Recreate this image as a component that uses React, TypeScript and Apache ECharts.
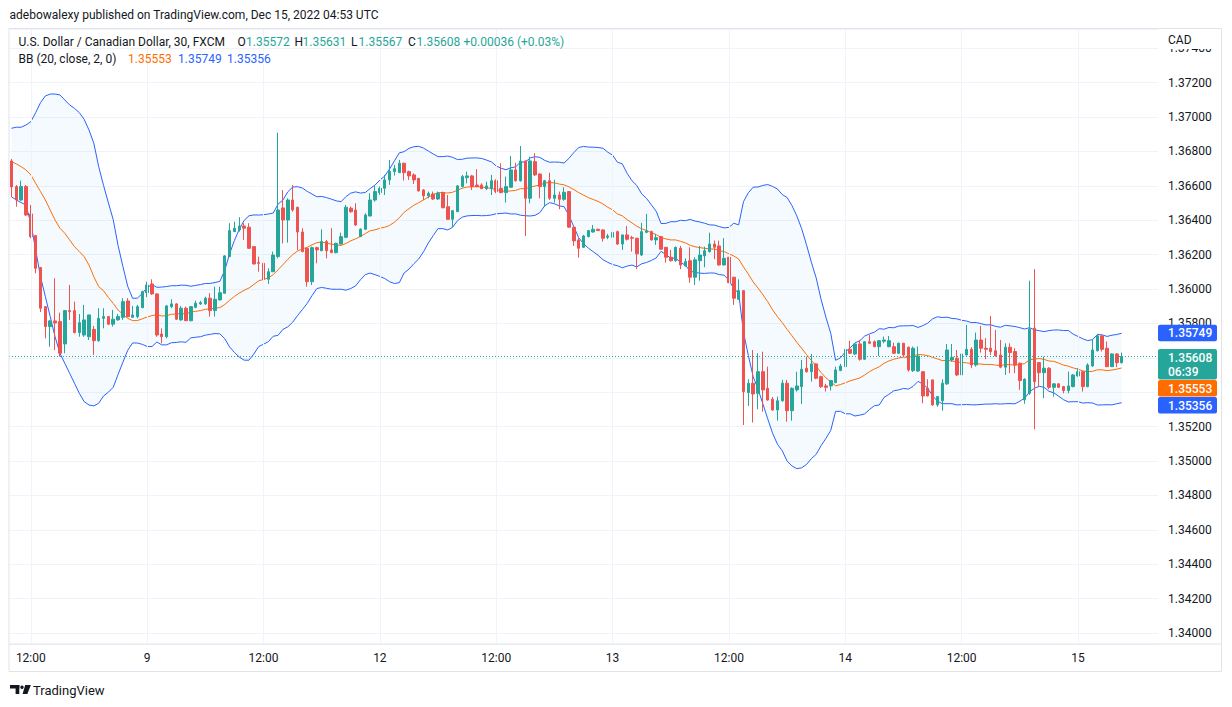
import React, { useEffect, useRef } from "react";
import * as echarts from "echarts";

// USD/CAD 30-minute candles, FXCM — rows are [open, high, low, close]
const candles: number[][] = [
  [1.36745, 1.36757, 1.36536, 1.36594],
  [1.36596, 1.36605, 1.36479, 1.36518],
  [1.36518, 1.3663, 1.36514, 1.36596],
  [1.36596, 1.36605, 1.36425, 1.36431],
  [1.36437, 1.36489, 1.36296, 1.36305],
  [1.36311, 1.36315, 1.36092, 1.36121],
  [1.36125, 1.36129, 1.35867, 1.35889],
  [1.35898, 1.359, 1.35714, 1.35782],
  [1.35782, 1.35821, 1.35665, 1.35815],
  [1.35815, 1.36063, 1.35646, 1.35803],
  [1.35811, 1.35863, 1.35607, 1.35627],
  [1.35681, 1.35879, 1.35627, 1.35875],
  [1.35875, 1.36024, 1.35821, 1.35869],
  [1.35875, 1.35927, 1.35743, 1.35747],
  [1.35747, 1.35855, 1.35723, 1.35805],
  [1.35733, 1.35908, 1.35722, 1.35821],
  [1.35723, 1.3585, 1.35704, 1.3585],
  [1.35766, 1.35786, 1.35617, 1.357],
  [1.357, 1.35889, 1.35694, 1.3583],
  [1.3583, 1.35889, 1.35772, 1.3584],
  [1.3584, 1.35842, 1.35791, 1.35796],
  [1.35796, 1.35879, 1.35782, 1.35825],
  [1.35821, 1.35855, 1.35816, 1.3584],
  [1.35836, 1.35947, 1.35821, 1.35927],
  [1.35931, 1.35947, 1.35836, 1.3584],
  [1.35836, 1.35902, 1.35834, 1.3585],
  [1.3584, 1.35908, 1.3583, 1.35898],
  [1.35892, 1.35991, 1.35889, 1.35985],
  [1.35979, 1.36043, 1.35953, 1.36024],
  [1.3603, 1.36057, 1.35966, 1.35972],
  [1.35972, 1.35975, 1.35723, 1.35733],
  [1.35739, 1.35772, 1.35685, 1.35723],
  [1.35723, 1.35908, 1.35714, 1.35902],
  [1.35898, 1.35941, 1.35889, 1.35914],
  [1.35914, 1.35918, 1.35821, 1.35825],
  [1.35821, 1.35902, 1.35816, 1.35889],
  [1.35889, 1.35898, 1.35815, 1.35816],
  [1.35816, 1.35902, 1.35813, 1.35898],
  [1.35894, 1.35933, 1.35889, 1.35918],
  [1.35914, 1.35931, 1.35908, 1.35921],
  [1.35914, 1.35956, 1.35908, 1.35947],
  [1.35947, 1.35976, 1.3584, 1.35875],
  [1.35875, 1.36014, 1.3584, 1.35941],
  [1.35937, 1.36014, 1.35935, 1.35979],
  [1.35976, 1.36198, 1.35974, 1.36193],
  [1.36189, 1.36383, 1.36187, 1.3634],
  [1.36334, 1.36392, 1.36332, 1.36354],
  [1.36344, 1.36418, 1.36334, 1.36367],
  [1.36367, 1.36383, 1.36286, 1.36354],
  [1.3636, 1.36383, 1.36235, 1.36237],
  [1.36247, 1.36249, 1.36144, 1.36146],
  [1.36154, 1.36189, 1.36101, 1.3615],
  [1.3615, 1.36189, 1.36053, 1.36057],
  [1.36057, 1.36121, 1.3603, 1.36101],
  [1.36101, 1.36218, 1.36099, 1.36198],
  [1.36189, 1.3691, 1.36179, 1.3646],
  [1.36472, 1.36576, 1.36266, 1.36402],
  [1.36402, 1.36528, 1.3627, 1.36518],
  [1.36518, 1.36605, 1.3645, 1.3646],
  [1.36476, 1.36478, 1.36226, 1.36332],
  [1.36332, 1.36354, 1.36214, 1.36218],
  [1.36237, 1.36239, 1.36014, 1.36043],
  [1.36043, 1.36247, 1.36024, 1.36241],
  [1.36241, 1.36247, 1.3615, 1.36228],
  [1.36223, 1.36348, 1.36221, 1.36276],
  [1.36276, 1.36286, 1.36179, 1.36223],
  [1.36228, 1.36354, 1.3621, 1.36212],
  [1.36212, 1.3627, 1.36208, 1.36266],
  [1.36262, 1.36328, 1.3626, 1.36305],
  [1.36301, 1.36489, 1.36296, 1.36476],
  [1.3647, 1.3648, 1.36444, 1.3645],
  [1.3646, 1.36499, 1.36367, 1.36373],
  [1.36305, 1.36354, 1.36303, 1.36348],
  [1.36348, 1.36441, 1.36344, 1.36431],
  [1.36425, 1.36557, 1.36423, 1.36518],
  [1.36518, 1.36605, 1.36508, 1.36567],
  [1.36561, 1.36596, 1.36547, 1.36586],
  [1.36586, 1.36664, 1.36547, 1.36635],
  [1.36635, 1.36751, 1.36606, 1.36683],
  [1.36683, 1.36722, 1.3666, 1.367],
  [1.36677, 1.36751, 1.36675, 1.36732],
  [1.36732, 1.36734, 1.36631, 1.36677],
  [1.36683, 1.36689, 1.36635, 1.36658],
  [1.36664, 1.36673, 1.36611, 1.36635],
  [1.36644, 1.36646, 1.36567, 1.36571],
  [1.36576, 1.36581, 1.36518, 1.36542],
  [1.36542, 1.36567, 1.36528, 1.36557],
  [1.36553, 1.36567, 1.36518, 1.36524],
  [1.36524, 1.36567, 1.36518, 1.36557],
  [1.36561, 1.36567, 1.3647, 1.36473],
  [1.36479, 1.36547, 1.36402, 1.36406],
  [1.36406, 1.3646, 1.3636, 1.36456],
  [1.3645, 1.36605, 1.36448, 1.366],
  [1.36596, 1.36664, 1.36592, 1.36654],
  [1.36648, 1.36683, 1.36615, 1.36658],
  [1.36658, 1.36664, 1.36576, 1.36596],
  [1.36605, 1.36697, 1.36592, 1.36596],
  [1.36605, 1.36615, 1.36581, 1.36584],
  [1.36584, 1.36625, 1.36576, 1.366],
  [1.36584, 1.36664, 1.36547, 1.3663],
  [1.3663, 1.36639, 1.36557, 1.36567],
  [1.36586, 1.36732, 1.36557, 1.36561],
  [1.36561, 1.36654, 1.36503, 1.36596],
  [1.36592, 1.36774, 1.3659, 1.36693],
  [1.36693, 1.36735, 1.36625, 1.3663],
  [1.3663, 1.36832, 1.36625, 1.36745],
  [1.36745, 1.36747, 1.36309, 1.36528],
  [1.36528, 1.3677, 1.36499, 1.36745],
  [1.36741, 1.3679, 1.36658, 1.36664],
  [1.36669, 1.36673, 1.36528, 1.36596],
  [1.36596, 1.36635, 1.36479, 1.3663],
  [1.3663, 1.36677, 1.36518, 1.36528],
  [1.36528, 1.36635, 1.36503, 1.36547],
  [1.36547, 1.36567, 1.36464, 1.36522],
  [1.36522, 1.36592, 1.36514, 1.36563],
  [1.36567, 1.36569, 1.36356, 1.3636],
  [1.3636, 1.36362, 1.36251, 1.3628],
  [1.36286, 1.36296, 1.36183, 1.36237],
  [1.36243, 1.36315, 1.36239, 1.36309],
  [1.36305, 1.36344, 1.36301, 1.3634],
  [1.36332, 1.36373, 1.36328, 1.36348],
  [1.36348, 1.36351, 1.36338, 1.3634],
  [1.36344, 1.36348, 1.36276, 1.36296],
  [1.36301, 1.36321, 1.3629, 1.36309],
  [1.36301, 1.36344, 1.3627, 1.3633],
  [1.36334, 1.3634, 1.36257, 1.36262],
  [1.36262, 1.36317, 1.36228, 1.36315],
  [1.36315, 1.36367, 1.36282, 1.3629],
  [1.36299, 1.36309, 1.36218, 1.36296],
  [1.36296, 1.36298, 1.36116, 1.36205],
  [1.36198, 1.36386, 1.36193, 1.36334],
  [1.3633, 1.36437, 1.36325, 1.36338],
  [1.36334, 1.3634, 1.36282, 1.36286],
  [1.36286, 1.36321, 1.36257, 1.36299],
  [1.36305, 1.36309, 1.36228, 1.36232],
  [1.36243, 1.36245, 1.36154, 1.36185],
  [1.36185, 1.36228, 1.3616, 1.36165],
  [1.36165, 1.36247, 1.36158, 1.36243],
  [1.36237, 1.36251, 1.36116, 1.3614],
  [1.36135, 1.36179, 1.36131, 1.3616],
  [1.36165, 1.36243, 1.36037, 1.36069],
  [1.36069, 1.36185, 1.36024, 1.3617],
  [1.36165, 1.36251, 1.36049, 1.36198],
  [1.36193, 1.36247, 1.36127, 1.36223],
  [1.36218, 1.36328, 1.36212, 1.36262],
  [1.36262, 1.36282, 1.36174, 1.36243],
  [1.36251, 1.36282, 1.36138, 1.3614],
  [1.3614, 1.36296, 1.36138, 1.36179],
  [1.36185, 1.36187, 1.36035, 1.36037],
  [1.36069, 1.36071, 1.35908, 1.35947],
  [1.35941, 1.36057, 1.35937, 1.35991],
  [1.35991, 1.35993, 1.3521, 1.35404],
  [1.35398, 1.35476, 1.35321, 1.35453],
  [1.35453, 1.35646, 1.35224, 1.3539],
  [1.35394, 1.35627, 1.35301, 1.3552],
  [1.3552, 1.35636, 1.35287, 1.35414],
  [1.35423, 1.35549, 1.35351, 1.35355],
  [1.3536, 1.35373, 1.35293, 1.35297],
  [1.35297, 1.35375, 1.35235, 1.35351],
  [1.35351, 1.35472, 1.35346, 1.35453],
  [1.35453, 1.35472, 1.35229, 1.35293],
  [1.35293, 1.35429, 1.35235, 1.35423],
  [1.35414, 1.3552, 1.35404, 1.35437],
  [1.35433, 1.35588, 1.35332, 1.35534],
  [1.3554, 1.35607, 1.35514, 1.3552],
  [1.3552, 1.35623, 1.35462, 1.35565],
  [1.35565, 1.35569, 1.35476, 1.35482],
  [1.35491, 1.35497, 1.35425, 1.35433],
  [1.35437, 1.35449, 1.35404, 1.35429],
  [1.35437, 1.35472, 1.3541, 1.35468],
  [1.35456, 1.35549, 1.35453, 1.3553],
  [1.35526, 1.35565, 1.35524, 1.35553],
  [1.35549, 1.35666, 1.35547, 1.3565],
  [1.3565, 1.357, 1.35623, 1.35627],
  [1.35623, 1.35685, 1.35617, 1.35681],
  [1.35681, 1.35704, 1.35584, 1.35592],
  [1.35592, 1.35698, 1.35588, 1.35694],
  [1.35694, 1.35733, 1.35681, 1.35685],
  [1.35694, 1.35702, 1.35663, 1.35665],
  [1.35665, 1.35704, 1.35611, 1.357],
  [1.35697, 1.35724, 1.35685, 1.35704],
  [1.35665, 1.35727, 1.35662, 1.357],
  [1.35665, 1.35689, 1.35623, 1.35627],
  [1.35627, 1.35689, 1.35623, 1.35685],
  [1.35685, 1.35687, 1.35611, 1.35617],
  [1.35662, 1.35666, 1.3552, 1.3553],
  [1.35526, 1.35666, 1.35518, 1.35656],
  [1.35524, 1.35666, 1.35518, 1.35611],
  [1.3552, 1.35522, 1.35336, 1.35379],
  [1.35423, 1.35476, 1.35376, 1.35379],
  [1.35472, 1.35474, 1.35321, 1.35327],
  [1.35327, 1.35377, 1.35316, 1.35375],
  [1.35351, 1.35476, 1.35293, 1.35453],
  [1.35449, 1.35681, 1.35443, 1.35646],
  [1.35588, 1.35681, 1.35578, 1.35604],
  [1.35598, 1.35646, 1.35495, 1.35501],
  [1.35501, 1.35627, 1.35497, 1.35623],
  [1.35617, 1.35792, 1.35615, 1.3565],
  [1.3565, 1.35662, 1.3554, 1.35559],
  [1.35559, 1.35747, 1.35549, 1.35704],
  [1.35704, 1.35786, 1.35631, 1.35656],
  [1.35656, 1.35715, 1.35592, 1.3565],
  [1.35656, 1.35844, 1.35617, 1.35637],
  [1.35642, 1.35763, 1.35607, 1.35612],
  [1.35617, 1.35704, 1.3554, 1.35546],
  [1.35546, 1.35685, 1.35501, 1.35662],
  [1.35662, 1.35685, 1.35511, 1.35631],
  [1.35637, 1.35656, 1.35511, 1.35559],
  [1.35569, 1.35573, 1.35414, 1.35468],
  [1.35356, 1.35482, 1.35333, 1.35476],
  [1.35395, 1.36049, 1.35385, 1.35767],
  [1.35773, 1.36116, 1.35185, 1.35462],
  [1.35573, 1.35575, 1.35437, 1.35514],
  [1.35514, 1.35607, 1.35366, 1.3554],
  [1.3554, 1.35546, 1.35418, 1.35429],
  [1.35429, 1.35453, 1.35375, 1.35449],
  [1.35449, 1.35453, 1.35425, 1.35429],
  [1.35433, 1.35437, 1.35394, 1.3541],
  [1.3541, 1.3552, 1.35394, 1.35437],
  [1.35433, 1.35507, 1.35429, 1.35501],
  [1.35495, 1.3554, 1.35491, 1.3552],
  [1.3552, 1.35522, 1.35404, 1.35433],
  [1.35433, 1.35569, 1.35429, 1.35559],
  [1.35553, 1.35709, 1.35549, 1.35646],
  [1.35642, 1.3574, 1.35637, 1.35728],
  [1.35728, 1.35733, 1.35637, 1.3565],
  [1.35656, 1.35695, 1.35546, 1.35549],
  [1.35549, 1.35627, 1.35547, 1.35623],
  [1.35623, 1.35627, 1.35546, 1.35572],
  [1.35572, 1.35631, 1.35567, 1.35608],
];

// Bollinger band values for the first 19 bars
// (their 20-bar window starts before the visible range)
const bbUpperHead = [
  1.36935, 1.36941, 1.36941, 1.36954, 1.36973, 1.37026, 1.37084, 1.37123, 1.37134, 1.37134,
  1.37129, 1.371, 1.37071, 1.37051, 1.37026, 1.36987, 1.36925, 1.36848, 1.36712,
];
const bbMiddleHead = [
  1.36741, 1.36728, 1.36712, 1.36693, 1.36664, 1.36615, 1.36567, 1.36518, 1.3646, 1.36402,
  1.36354, 1.36325, 1.36286, 1.36247, 1.36218, 1.36189, 1.3614, 1.36072, 1.36014,
];
const bbLowerHead = [
  1.36537, 1.36518, 1.36503, 1.36489, 1.36383, 1.36228, 1.36072, 1.35956, 1.3584, 1.35723,
  1.35627, 1.35569, 1.35511, 1.35453, 1.35394, 1.35346, 1.35326, 1.35321, 1.35336,
];
const bbPeriod = 20;
const bbMult = 2;

// time axis
const xTickIndex = [4, 28, 52, 76, 100, 124, 148, 172, 196, 220];
const xTickLabels = ["12:00", "9", "12:00", "12", "12:00", "13", "12:00", "14", "12:00", "15"];
const emptySlots = 7;

// price axis
const yMin = 1.339366;
const yMax = 1.375122;

// texts
const headerText = "adebowalexy published on TradingView.com, Dec 15, 2022 04:53 UTC";
const symbolTitle = "U.S. Dollar / Canadian Dollar, 30, FXCM";
const ohlcKeys = ["O", "H", "L", "C"];
const ohlcValues = ["1.35572", "1.35631", "1.35567", "1.35608"];
const changeText = "+0.00036 (+0.03%)";
const bbTitle = "BB (20, close, 2, 0)";
const bbLegendValues = [1.35553, 1.35749, 1.35356];
const lastClose = 1.35608;
const countdown = "06:39";
const currency = "CAD";

const UP = "#26A69A";
const DOWN = "#EF5350";
const BLUE = "#2962FF";
const ORANGE = "#FF6D00";
const TEXT = "#131722";
const GRID = "#F0F3FA";
const FRAME = "#E0E3EB";
const FONT = "Roboto, 'Noto Sans', sans-serif";

export default function App() {
  const ref = useRef<HTMLDivElement>(null);

  useEffect(() => {
    if (!ref.current) return;
    const chart = echarts.init(ref.current, undefined, { renderer: "svg" });

    const n = candles.length;
    const total = n + emptySlots;
    const categories = Array.from({ length: total }, (_, i) => String(i));
    const closes = candles.map((c) => c[3]);

    const upper: (number | null)[] = [];
    const middle: (number | null)[] = [];
    const lower: (number | null)[] = [];
    for (let i = 0; i < total; i++) {
      if (i >= n) {
        upper.push(null);
        middle.push(null);
        lower.push(null);
      } else if (i < bbPeriod - 1) {
        upper.push(bbUpperHead[i]);
        middle.push(bbMiddleHead[i]);
        lower.push(bbLowerHead[i]);
      } else {
        const w = closes.slice(i - bbPeriod + 1, i + 1);
        const m = w.reduce((a, b) => a + b, 0) / bbPeriod;
        const sd = Math.sqrt(w.reduce((a, b) => a + (b - m) * (b - m), 0) / bbPeriod);
        middle.push(m);
        upper.push(m + bbMult * sd);
        lower.push(m - bbMult * sd);
      }
    }
    const bandWidth = upper.map((u, i) => (u == null || lower[i] == null ? null : u - (lower[i] as number)));
    const candleData = candles.map(([o, h, l, c]) => [o, c, l, h]);
    const tickMap: Record<number, string> = {};
    xTickIndex.forEach((idx, k) => (tickMap[idx] = xTickLabels[k]));

    chart.setOption({
      animation: false,
      textStyle: { fontFamily: FONT },
      grid: { left: 9, right: 74, top: 29, bottom: 63, containLabel: false },
      xAxis: {
        type: "category",
        data: categories,
        boundaryGap: true,
        axisLine: { show: false },
        axisTick: { show: false },
        splitLine: { show: false },
        axisLabel: {
          interval: (idx: number) => tickMap[idx] !== undefined,
          formatter: (_v: string, idx: number) => tickMap[idx] ?? "",
          color: TEXT,
          fontSize: 12,
          fontFamily: FONT,
          margin: 8,
        },
      },
      yAxis: {
        type: "value",
        position: "right",
        min: yMin,
        max: yMax,
        splitNumber: 18,
        axisLine: { show: false },
        axisTick: { show: false },
        splitLine: { lineStyle: { color: GRID, width: 1 } },
        axisLabel: {
          formatter: (v: number) => v.toFixed(5),
          color: TEXT,
          fontSize: 12,
          fontFamily: FONT,
          margin: 10,
          showMinLabel: false,
          showMaxLabel: false,
        },
      },
      series: [
        {
          name: "bbBase",
          type: "line",
          data: lower,
          stack: "bb",
          symbol: "none",
          silent: true,
          lineStyle: { width: 0, opacity: 0 },
          z: 1,
          markLine: {
            silent: true,
            symbol: ["none", "none"],
            label: { show: false },
            lineStyle: { color: GRID, width: 1, type: "solid" },
            data: xTickIndex.map((idx) => ({ xAxis: String(idx) })),
          },
        },
        {
          name: "bbFill",
          type: "line",
          data: bandWidth,
          stack: "bb",
          symbol: "none",
          silent: true,
          lineStyle: { width: 0, opacity: 0 },
          areaStyle: { color: "rgba(33,150,243,0.07)" },
          z: 1,
        },
        {
          name: "Upper",
          type: "line",
          data: upper,
          symbol: "none",
          silent: true,
          lineStyle: { color: BLUE, width: 1 },
          z: 2,
          markLine: {
            silent: true,
            precision: 5,
            symbol: ["none", "none"],
            label: { show: false },
            lineStyle: { color: UP, width: 1, type: [1, 2], opacity: 1 },
            emphasis: { disabled: true },
            data: [{ yAxis: lastClose }],
          },
        },
        {
          name: "Lower",
          type: "line",
          data: lower,
          symbol: "none",
          silent: true,
          lineStyle: { color: BLUE, width: 1 },
          z: 2,
        },
        {
          name: "Basis",
          type: "line",
          data: middle,
          symbol: "none",
          silent: true,
          lineStyle: { color: ORANGE, width: 1 },
          z: 2,
        },
        {
          name: "USDCAD",
          type: "candlestick",
          data: candleData,
          barWidth: 3,
          itemStyle: {
            color: UP,
            color0: DOWN,
            borderColor: UP,
            borderColor0: DOWN,
            borderWidth: 1,
          },
          z: 3,
        },
      ],
    });

    const py = (v: number) => chart.convertToPixel({ yAxisIndex: 0 }, v) as number;

    const tags = [
      { value: bbLegendValues[1], color: BLUE, sub: "" },
      { value: lastClose, color: UP, sub: countdown },
      { value: bbLegendValues[0], color: ORANGE, sub: "" },
      { value: bbLegendValues[2], color: BLUE, sub: "" },
    ]
      .map((t) => ({ ...t, y: py(t.value) }))
      .sort((a, b) => a.y - b.y);

    const graphics: any[] = [];
    const txt = (text: string, x: number, y: number, fill: string, size = 12, weight: any = "normal") => ({
      type: "text",
      x,
      y,
      z: 120,
      style: {
        text,
        fill,
        fontSize: size,
        fontFamily: FONT,
        fontWeight: weight,
        align: "left",
        verticalAlign: "middle",
        textVerticalAlign: "middle",
      },
    });

    // frame and axis separator
    graphics.push({
      type: "rect",
      z: 110,
      shape: { x: 9, y: 28.5, width: 1212.5, height: 643 },
      style: { fill: "none", stroke: FRAME, lineWidth: 1 },
    });
    graphics.push({
      type: "line",
      z: 110,
      shape: { x1: 9, y1: 644, x2: 1221.5, y2: 644 },
      style: { stroke: FRAME, lineWidth: 1 },
    });

    // currency label covering the clipped top tick label
    graphics.push({
      type: "rect",
      z: 111,
      shape: { x: 1159, y: 29.5, width: 61.5, height: 19.5 },
      style: { fill: "#ffffff" },
    });
    graphics.push(txt(currency, 1168, 40, TEXT));

    // header + legends
    graphics.push(txt(headerText, 9.5, 14.5, TEXT));
    graphics.push(txt(symbolTitle, 18.5, 41.5, TEXT));
    const keyX = [237.5, 294.5, 351, 408];
    const valX = [246, 302.5, 358.5, 416.5];
    ohlcKeys.forEach((k, i) => {
      graphics.push(txt(k, keyX[i], 41.5, TEXT));
      graphics.push(txt(ohlcValues[i], valX[i], 41.5, UP));
    });
    graphics.push(txt(changeText, 463.5, 41.5, UP));
    graphics.push(txt(bbTitle, 18.5, 58.5, TEXT));
    graphics.push(txt(bbLegendValues[0].toFixed(5), 128, 58.5, ORANGE));
    graphics.push(txt(bbLegendValues[1].toFixed(5), 178, 58.5, BLUE));
    graphics.push(txt(bbLegendValues[2].toFixed(5), 227, 58.5, BLUE));

    // price tags on the right scale
    let prevBottom = -Infinity;
    tags.forEach((t) => {
      const h = t.sub ? 30.5 : 16.5;
      let top = t.y - 7.5;
      if (top < prevBottom) top = prevBottom + 0.5;
      prevBottom = top + h;
      graphics.push({
        type: "rect",
        z: 115,
        shape: { x: 1158, y: top, width: 59, height: h, r: 2 },
        style: { fill: t.color },
      });
      graphics.push(txt(t.value.toFixed(5), 1168, top + 8.5, "#ffffff", 12, 500));
      if (t.sub) graphics.push(txt(t.sub, 1168, top + 22.5, "#ffffff", 12, 500));
    });

    // TradingView logo
    graphics.push({
      type: "group",
      z: 120,
      children: [
        { type: "rect", z: 120, shape: { x: 10, y: 685, width: 9.3, height: 3.4 }, style: { fill: TEXT } },
        { type: "rect", z: 120, shape: { x: 15.6, y: 685, width: 3.7, height: 9 }, style: { fill: TEXT } },
        { type: "circle", z: 120, shape: { cx: 22, cy: 687.2, r: 1.7 }, style: { fill: TEXT } },
        {
          type: "polygon",
          z: 120,
          shape: { points: [[25.2, 685], [30.8, 685], [27.4, 694], [22.6, 694]] },
          style: { fill: TEXT },
        },
      ],
    });
    graphics.push(txt("TradingView", 33, 690, TEXT, 13));

    chart.setOption({ graphic: graphics });

    return () => chart.dispose();
  }, []);

  return (
    <div
      ref={ref}
      style={{ position: "absolute", left: 0, top: 0, width: 1232, height: 707, background: "#ffffff" }}
    />
  );
}
